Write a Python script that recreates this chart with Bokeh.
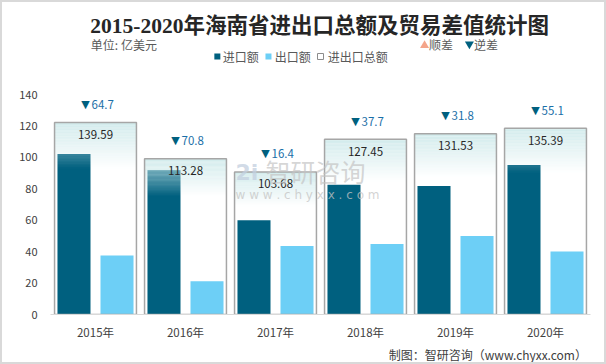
from bokeh.plotting import figure
from bokeh.layouts import column
from bokeh.models import ColumnDataSource, FactorRange, Range1d, Label
from bokeh.transform import dodge
from bokeh.core.properties import value
from bokeh.embed import file_html
from bokeh.resources import INLINE

# ---------------- data ----------------
years = ["2015年", "2016年", "2017年", "2018年", "2019年", "2020年"]
imports = [102.1, 92.0, 60.0, 82.6, 81.7, 95.2]
exports = [37.5, 21.2, 43.6, 44.9, 49.9, 40.1]
totals = [139.59, 113.28, 103.68, 127.45, 131.53, 135.39]
balance = [64.7, 70.8, 16.4, 37.7, 31.8, 55.1]
y_ticks = [0, 20, 40, 60, 80, 100, 120, 140]

title_text = "2015-2020年海南省进出口总额及贸易差值统计图"
unit_text = "单位:  亿美元"
legend_names = ["进口额", "出口额", "进出口总额"]
balance_names = ["顺差", "逆差"]
source_text = "制图：智研咨询（www.chyxx.com）"

# ---------------- layout ----------------
B = 2                      # page border width
W = 606 - 2 * B
HEAD_H, MAIN_H, FOOT_H = 80, 260, 20
FL, FR = 48, 588           # frame left/right in figure px
YMAX = 140
CJK = "Noto Sans CJK SC"
IMP_C = "#00607f"
EXP_C = "#6dcff6"
TXT_C = "#404040"
LEG_C = "#595959"


def blank(h, yr):
    f = figure(width=W, height=h, x_range=Range1d(0, W), y_range=Range1d(yr, 0),
               output_backend="svg", toolbar_location=None, title=None,
               x_axis_type=None, y_axis_type=None, min_border=0,
               outline_line_color=None, background_fill_color="white",
               border_fill_color="white")
    f.xgrid.visible = False
    f.ygrid.visible = False
    return f


# ---------- header ----------
hd = blank(HEAD_H, HEAD_H)
o = B  # offset of reference px -> figure px


def htext(x, y, t, size="12px", color=LEG_C, align="left", font=CJK, style="normal"):
    hd.text(x=[x - o], y=[y - o], text=[t], text_align=align, text_baseline="middle",
            text_font=value(font), text_font_size=size, text_color=color,
            text_font_style=style)


htext(302, 25, title_text, size="21.5px", color="#262626", align="center",
      font="Liberation Serif, Noto Sans CJK SC", style="bold")
htext(47, 44, unit_text)
hd.scatter(x=[419 - o], y=[45 - o], marker="triangle", size=9,
           fill_color="#f4a58a", line_color=None)
htext(424, 44, balance_names[0])
hd.scatter(x=[469 - o], y=[43.5 - o], marker="inverted_triangle", size=9,
           fill_color=IMP_C, line_color=None)
htext(474, 44, balance_names[1])

hd.scatter(x=[188 - o], y=[56 - o], marker="square", size=6,
           fill_color=IMP_C, line_color=None)
htext(194, 56, legend_names[0])
hd.scatter(x=[245 - o], y=[56 - o], marker="square", size=6,
           fill_color=EXP_C, line_color=None)
htext(252, 56, legend_names[1])
hd.scatter(x=[303 - o], y=[56 - o], marker="square", size=6,
           fill_color="white", line_color="#8c8c8c", line_width=1)
htext(311, 56, legend_names[2])

# ---------- main chart ----------
p = figure(width=W, height=MAIN_H, x_range=FactorRange(*years), y_range=Range1d(0, YMAX),
           output_backend="svg", toolbar_location=None, title=None,
           min_border_left=FL, min_border_right=W - FR, min_border_top=12,
           min_border_bottom=28, outline_line_color=None,
           background_fill_color="white", border_fill_color="white")
p.extra_y_ranges = {"total": Range1d(0, 160)}
p.xgrid.visible = False
p.ygrid.visible = False

p.yaxis.ticker = y_ticks
p.yaxis.axis_line_color = None
p.yaxis.major_tick_line_color = None
p.yaxis.minor_tick_line_color = None
p.yaxis.major_tick_out = 0
p.yaxis.major_label_standoff = 13
p.yaxis.major_label_text_font = CJK
p.yaxis.major_label_text_font_size = "11px"
p.yaxis.major_label_text_color = TXT_C

p.xaxis.axis_line_color = "#d9d9d9"
p.xaxis.axis_line_width = 1
p.xaxis.major_tick_line_color = None
p.xaxis.minor_tick_line_color = None
p.xaxis.major_tick_out = 0
p.xaxis.major_label_standoff = 9
p.xaxis.major_label_text_font = CJK
p.xaxis.major_label_text_font_size = "11.5px"
p.xaxis.major_label_text_color = TXT_C

src = ColumnDataSource(dict(x=years, imp=imports, exp=exports, tot=totals,
                            tot_lbl=[f"{t:.2f}" for t in totals],
                            bal_lbl=[f"{b}" for b in balance],
                            tri=["▼"] * len(years)))

BW = 0.367
OFF = 0.239
p.vbar(x=dodge("x", -OFF, range=p.x_range), top="imp", width=BW, source=src,
       fill_color=IMP_C, line_color=None)
p.vbar(x=dodge("x", OFF, range=p.x_range), top="exp", width=BW, source=src,
       fill_color=EXP_C, line_color=None)

# gradient overlay of total boxes (top portion)
N, FRAC, A0 = 30, 0.24, 0.9
gx, gt, gb, ga = [], [], [], []
for yr, t in zip(years, totals):
    for j in range(N):
        gx.append(yr)
        gt.append(t * (1 - FRAC * j / N))
        gb.append(t * (1 - FRAC * (j + 1) / N))
        ga.append(A0 * (1 - (j + 0.5) / N))
gsrc = ColumnDataSource(dict(x=gx, top=gt, bottom=gb, a=ga))
p.vbar(x="x", top="top", bottom="bottom", width=0.91, source=gsrc,
       fill_color="#cde9ea", fill_alpha="a", line_color=None, y_range_name="total")

# total box outline
p.vbar(x="x", top="tot", width=0.91, source=src, fill_color=None,
       line_color="#a6a6a6", line_width=1.5, y_range_name="total")

# value labels
p.text(x="x", y="tot", text="tot_lbl", source=src, y_range_name="total",
       y_offset=12, text_align="center", text_baseline="middle",
       text_font=value(CJK), text_font_size="11.5px", text_color="#262626")
p.text(x="x", y="tot", text="tri", source=src, y_range_name="total",
       x_offset=-10, y_offset=-18, text_align="center", text_baseline="middle",
       text_font=value("DejaVu Sans"), text_font_size="11px", text_color=IMP_C)
p.text(x="x", y="tot", text="bal_lbl", source=src, y_range_name="total",
       x_offset=-4, y_offset=-18, text_align="left", text_baseline="middle",
       text_font=value(CJK), text_font_size="11.5px", text_color="#1b6fa8")

MAIN_TOP = B + HEAD_H


def wm(px, py, text, size, color, font=CJK, style="normal", alpha=0.7):
    p.add_layout(Label(x=px - B, y=py - MAIN_TOP, x_units="canvas", y_units="canvas",
                       text=text, text_align="left", text_baseline="middle",
                       text_font=font, text_font_size=size, text_color=color,
                       text_font_style=style, text_alpha=alpha))


# watermark
wm(235, 172, "2i", "22px", "#c3d0e0", font="DejaVu Sans", style="bold", alpha=0.75)
wm(265, 170, "智研咨询", "25px", "#c4c4c4")
wm(235, 194, "w w w . c h y x x . c o m", "12px", "#c4c4c4", font="DejaVu Sans", alpha=0.75)

# ---------- footer ----------
ft = blank(FOOT_H, FOOT_H)
ft.text(x=[W - 4], y=[354 - MAIN_TOP - MAIN_H], text=[source_text], text_align="right",
        text_baseline="middle", text_font=value("Noto Sans CJK SC"),
        text_font_size="12px", text_color=TXT_C)

layout = column(hd, p, ft, spacing=0, styles={"border": f"{B}px solid #d9d9d9"})

open("out.html", "w").write(file_html(layout, INLINE))
